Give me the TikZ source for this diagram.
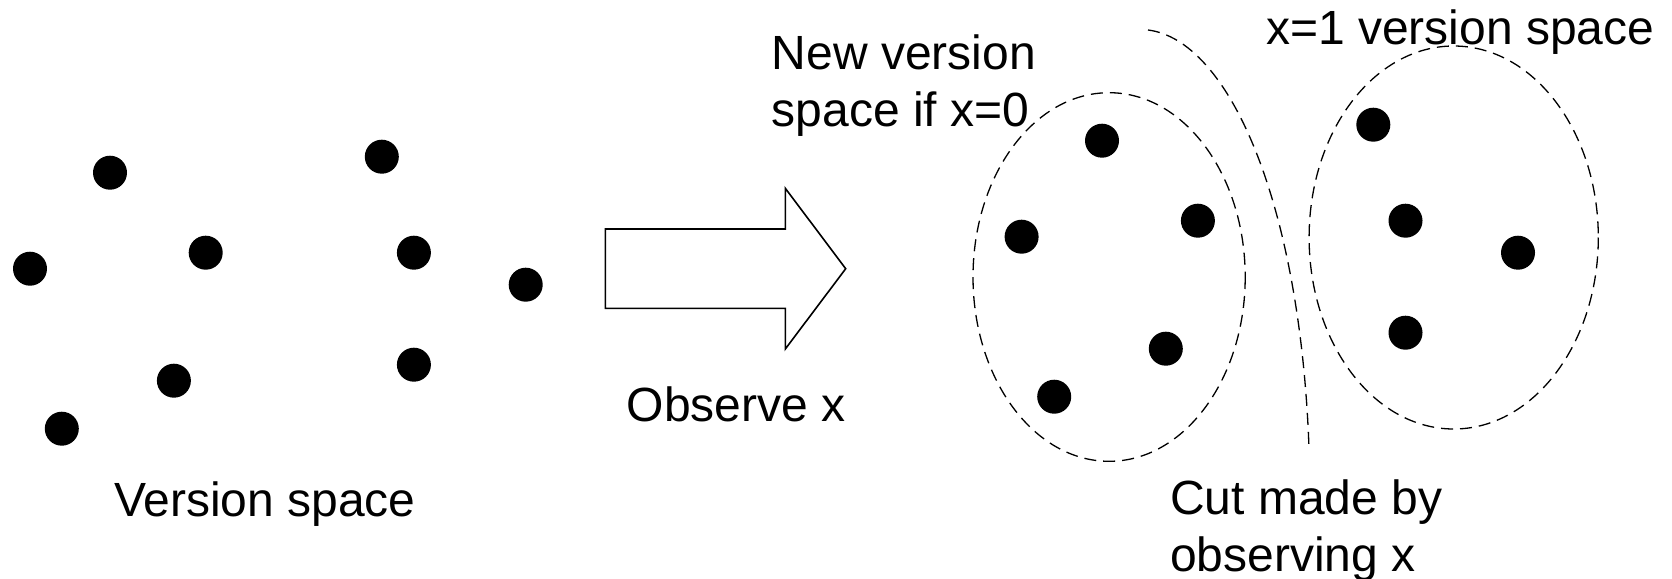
\documentclass[tikz,border=0pt]{standalone}
\usepackage{fontspec}
\setmainfont{Liberation Sans}
\begin{document}
\begin{tikzpicture}[x=1pt,y=-1pt,
  dot/.style={circle,fill=black,inner sep=0pt,minimum size=34pt},
  setline/.style={draw=black,line width=1.3pt,dash pattern=on 12pt off 7pt},
  blockarrow/.style={draw=black,line width=1.6pt,fill=white,line join=miter},
  lbl/.style={inner sep=0pt,font=\fontsize{48}{57}\selectfont,align=left}]
\useasboundingbox (0,0) rectangle (1672,578);

% hypotheses before the observation
\node[dot] (a1) at (110,172.7) {};
\node[dot] (a2) at (381.8,156.7) {};
\node[dot] (a3) at (30,268.7) {};
\node[dot] (a4) at (205.7,252.7) {};
\node[dot] (a5) at (413.9,252.7) {};
\node[dot] (a6) at (525.7,284.7) {};
\node[dot] (a7) at (173.9,380.7) {};
\node[dot] (a8) at (413.9,364.7) {};
\node[dot] (a9) at (61.8,428.7) {};
\node[lbl,anchor=base west] (vs) at (114,516.7) {Version space};

% block arrow
\draw[blockarrow] (605.3,229) -- (785.3,229) -- (785.3,188.3) -- (845.7,268.7)
  -- (785.3,349) -- (785.3,308.3) -- (605.3,308.3) -- cycle;
\node[lbl,anchor=base west] (obs) at (626.7,421.7) {Observe x};

% the two resulting version spaces
\draw[setline] (1109.1,277) ellipse [x radius=136.1,y radius=184.3];
\draw[setline] (1453.7,237.5) ellipse [x radius=144.6,y radius=191.5];

\node[dot] (b1) at (1102,140.7) {};
\node[dot] (b2) at (1021.6,236.7) {};
\node[dot] (b3) at (1197.9,220.7) {};
\node[dot] (b4) at (1165.8,348.7) {};
\node[dot] (b5) at (1054.2,396.7) {};

\node[dot] (c1) at (1373.3,124.7) {};
\node[dot] (c2) at (1405.5,220.7) {};
\node[dot] (c3) at (1518,252.7) {};
\node[dot] (c4) at (1405.5,332.7) {};

% the cut
\coordinate (cutA) at (1148,30);
\coordinate (cutB) at (1309,448);
\draw[setline] (cutA) .. controls (1228,40) and (1300,200) .. (cutB);

% labels (base anchor sits on the last line of a two-line label)
\node[lbl,anchor=base west] (new0) at (771.7,126) {New version\\space if x=0};
\node[lbl,anchor=base west] (new1) at (1266,45) {x=1 version space};
\node[lbl,anchor=base west] (cut) at (1170,571) {Cut made by\\observing x};
\end{tikzpicture}
\end{document}
